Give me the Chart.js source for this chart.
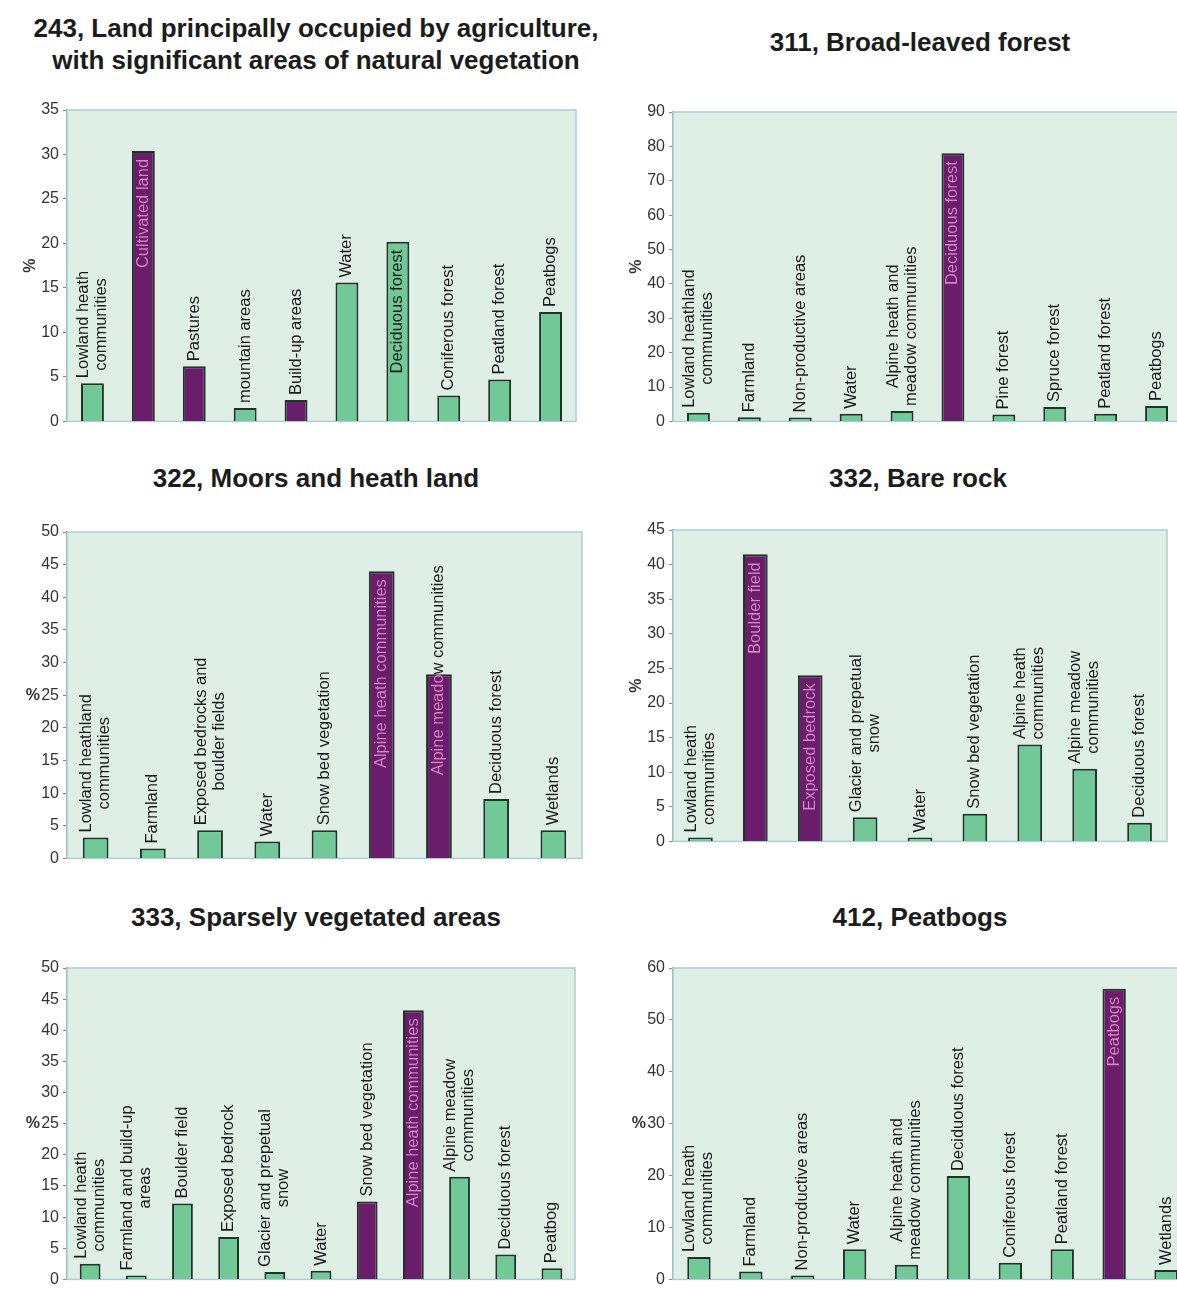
<!DOCTYPE html>
<html>
<head>
<meta charset="utf-8">
<script src="https://cdn.jsdelivr.net/npm/chart.js@4.4.1/dist/chart.umd.min.js"></script>
<style>
  html, body { margin: 0; padding: 0; background: #ffffff; overflow: hidden; }
  body { width: 1177px; height: 1293px; position: relative; font-family: "Liberation Sans", Arial, sans-serif; }
  .ttl { position: absolute; font-weight: bold; font-size: 26px; line-height: 32px; color: #1c1c1c; text-align: center; white-space: nowrap; }
  canvas { position: absolute; }
</style>
</head>
<body>
<div class="ttl" style="left:0;width:632px;top:12px;">243, Land principally occupied by agriculture,<br>with significant areas of natural vegetation</div>
<div class="ttl" style="left:620px;width:600px;top:26px;">311, Broad-leaved forest</div>
<div class="ttl" style="left:0;width:632px;top:462px;">322, Moors and heath land</div>
<div class="ttl" style="left:620px;width:596px;top:462px;">332, Bare rock</div>
<div class="ttl" style="left:0;width:632px;top:901px;">333, Sparsely vegetated areas</div>
<div class="ttl" style="left:620px;width:600px;top:901px;">412, Peatbogs</div>

<canvas id="c1"></canvas>
<canvas id="c2"></canvas>
<canvas id="c3"></canvas>
<canvas id="c4"></canvas>
<canvas id="c5"></canvas>
<canvas id="c6"></canvas>

<script>
// ---------- DATA ----------
// 243, Land principally occupied by agriculture, with significant areas of natural vegetation
const categories243 = [["Lowland heath", "communities"], "Cultivated land", "Pastures", "mountain areas", "Build-up areas", "Water", "Deciduous forest", "Coniferous forest", "Peatland forest", "Peatbogs"];
const values243 = [4.3, 30.4, 6.2, 1.5, 2.4, 15.6, 20.2, 2.9, 4.7, 12.3];
const purple243 = [0, 1, 1, 0, 1, 0, 0, 0, 0, 0];
const ticks243 = [0, 5, 10, 15, 20, 25, 30, 35];

// 311, Broad-leaved forest
const categories311 = [["Lowland heathland", "communities"], "Farmland", "Non-productive areas", "Water", ["Alpine heath and", "meadow communities"], "Deciduous forest", "Pine forest", "Spruce forest", "Peatland forest", "Peatbogs"];
const values311 = [2.5, 1.2, 0.8, 2.2, 3.0, 78.0, 2.0, 4.2, 2.2, 4.5];
const purple311 = [0, 0, 0, 0, 0, 1, 0, 0, 0, 0];
const ticks311 = [0, 10, 20, 30, 40, 50, 60, 70, 80, 90];

// 322, Moors and heath land
const categories322 = [["Lowland heathland", "communities"], "Farmland", ["Exposed bedrocks and", "boulder fields"], "Water", "Snow bed vegetation", "Alpine heath communities", "Alpine meadow communities", "Deciduous forest", "Wetlands"];
const values322 = [3.2, 1.5, 4.3, 2.6, 4.3, 44.0, 28.2, 9.1, 4.3];
const purple322 = [0, 0, 0, 0, 0, 1, 1, 0, 0];
const ticks322 = [0, 5, 10, 15, 20, 25, 30, 35, 40, 45, 50];

// 332, Bare rock
const categories332 = [["Lowland heath", "communities"], "Boulder field", "Exposed bedrock", ["Glacier and prepetual", "snow"], "Water", "Snow bed vegetation", ["Alpine heath", "communities"], ["Alpine meadow", "communities"], "Deciduous forest"];
const values332 = [0.4, 41.5, 24.0, 3.5, 0.4, 4.0, 14.0, 10.5, 2.7];
const purple332 = [0, 1, 1, 0, 0, 0, 0, 0, 0];
const ticks332 = [0, 5, 10, 15, 20, 25, 30, 35, 40, 45];

// 333, Sparsely vegetated areas
const categories333 = [["Lowland heath", "communities"], ["Farmland and build-up", "areas"], "Boulder field", "Exposed bedrock", ["Glacier and prepetual", "snow"], "Water", "Snow bed vegetation", "Alpine heath communities", ["Alpine meadow", "communities"], "Deciduous forest", "Peatbog"];
const values333 = [2.5, 0.5, 12.2, 6.8, 1.2, 1.4, 12.5, 43.2, 16.5, 4.0, 1.8];
const purple333 = [0, 0, 0, 0, 0, 0, 1, 1, 0, 0, 0];
const ticks333 = [0, 5, 10, 15, 20, 25, 30, 35, 40, 45, 50];

// 412, Peatbogs
const categories412 = [["Lowland heath", "communities"], "Farmland", "Non-productive areas", "Water", ["Alpine heath and", "meadow communities"], "Deciduous forest", "Coniferous forest", "Peatland forest", "Peatbogs", "Wetlands"];
const values412 = [4.3, 1.5, 0.6, 5.8, 2.8, 19.9, 3.2, 5.8, 56.0, 1.8];
const purple412 = [0, 0, 0, 0, 0, 0, 0, 0, 1, 0];
const ticks412 = [0, 10, 20, 30, 40, 50, 60];

// ---------- STYLE ----------
const GREEN = '#72c998';
const PURPLE = '#6a1d6b';
const EDGE = '#1f3327';
const PLOT_BG = '#e0efe6';
const PLOT_BORDER = '#a9d0d6';
const PINK = '#e57fd3';
const TEXT = '#1a1a1a';
const FONT = '"Liberation Sans", Arial, sans-serif';
const LABEL_SIZE = 16.5;

const plotPlugin = {
  id: 'plotPlugin',
  beforeDatasetsDraw(chart) {
    const a = chart.chartArea, ctx = chart.ctx;
    ctx.save();
    ctx.fillStyle = PLOT_BG;
    ctx.fillRect(a.left, a.top, a.right - a.left, a.bottom - a.top);
    ctx.strokeStyle = PLOT_BORDER;
    ctx.lineWidth = 1.5;
    ctx.strokeRect(a.left, a.top, a.right - a.left, a.bottom - a.top);
    ctx.restore();
  },
  afterDatasetsDraw(chart) {
    const cfg = chart.options.plugins.plotPlugin;
    const ctx = chart.ctx, a = chart.chartArea;
    const meta = chart.getDatasetMeta(0);
    const labels = chart.data.labels;
    const lh = LABEL_SIZE + 1.5;
    ctx.save();
    ctx.font = LABEL_SIZE + 'px ' + FONT;
    meta.data.forEach((bar, i) => {
      const lines = Array.isArray(labels[i]) ? labels[i] : [labels[i]];
      const maxW = Math.max(...lines.map(l => ctx.measureText(l).width));
      const top = bar.y, base = bar.base, h = base - top;
      const inside = cfg.inside.includes(i);
      const isPurple = chart.data.datasets[0].backgroundColor[i] === PURPLE;
      let startY;
      if (inside) {
        if (maxW + 16 > h) startY = base - 0.45 * h;
        else startY = top + 8 + maxW;
      } else {
        startY = top - 5;
      }
      const drawText = (color) => {
        ctx.save();
        ctx.translate(bar.x, startY);
        ctx.rotate(-Math.PI / 2);
        ctx.fillStyle = color;
        ctx.textAlign = 'center';
        ctx.textBaseline = 'middle';
        lines.forEach((ln, k) => {
          const off = (k - (lines.length - 1) / 2) * lh;
          ctx.fillText(ln, maxW / 2, off);
        });
        ctx.restore();
      };
      if (inside && isPurple) {
        drawText(TEXT);
        ctx.save();
        ctx.beginPath();
        ctx.rect(bar.x - bar.width / 2, top, bar.width, h);
        ctx.clip();
        drawText(PINK);
        ctx.restore();
      } else {
        drawText(TEXT);
      }
    });
    // y axis title "%"
    ctx.fillStyle = '#333';
    ctx.font = 'bold 16px ' + FONT;
    const midY = (a.top + a.bottom) / 2;
    if (cfg.rotTitle) {
      ctx.save();
      ctx.translate(a.left - 36, midY);
      ctx.rotate(-Math.PI / 2);
      ctx.textAlign = 'center';
      ctx.textBaseline = 'middle';
      ctx.fillText('%', 0, 0);
      ctx.restore();
    } else {
      ctx.textAlign = 'right';
      ctx.textBaseline = 'middle';
      ctx.fillText('%', a.left - 27, midY);
    }
    ctx.restore();
  }
};

function makeChart(id, box, cats, vals, purple, ticks, inside, rotTitle) {
  const cv = document.getElementById(id);
  cv.width = box.w; cv.height = box.h;
  cv.style.left = box.x + 'px'; cv.style.top = box.y + 'px';
  cv.style.width = box.w + 'px'; cv.style.height = box.h + 'px';
  const maxV = ticks[ticks.length - 1];
  const step = ticks[1] - ticks[0];
  return new Chart(cv, {
    type: 'bar',
    data: {
      labels: cats,
      datasets: [{
        data: vals,
        backgroundColor: purple.map(p => p ? PURPLE : GREEN),
        borderColor: EDGE,
        borderWidth: 2,
        minBarLength: 4,
        barPercentage: 0.45,
        categoryPercentage: 1.0
      }]
    },
    options: {
      responsive: false,
      animation: false,
      layout: { padding: { top: box.pt, bottom: box.pb, right: box.pr, left: 0 } },
      plugins: {
        legend: { display: false },
        tooltip: { enabled: false },
        title: { display: false },
        plotPlugin: { inside: inside, rotTitle: rotTitle }
      },
      scales: {
        x: { display: false },
        y: {
          min: 0, max: maxV,
          afterFit(scale) { scale.width = box.yw; },
          afterBuildTicks(scale) { scale.ticks = ticks.map(v => ({ value: v })); },
          ticks: { stepSize: step, color: '#333', font: { family: FONT, size: 16 }, padding: 4 },
          grid: { display: true, drawOnChartArea: false, drawTicks: true, tickLength: 4, color: '#8a8a8a' },
          border: { display: true, color: '#8a8a8a', width: 1.5 }
        }
      }
    },
    plugins: [plotPlugin]
  });
}

makeChart('c1', { x: 0, y: 90, w: 595, h: 345, yw: 67, pt: 20, pb: 10, pr: 19 }, categories243, values243, purple243, ticks243, [1, 6], true);
makeChart('c2', { x: 590, y: 90, w: 600, h: 345, yw: 83, pt: 22, pb: 10, pr: 8 }, categories311, values311, purple311, ticks311, [5], true);
makeChart('c3', { x: 0, y: 510, w: 595, h: 362, yw: 67, pt: 22, pb: 10, pr: 13 }, categories322, values322, purple322, ticks322, [5, 6], false);
makeChart('c4', { x: 590, y: 510, w: 590, h: 345, yw: 83, pt: 20, pb: 10, pr: 13 }, categories332, values332, purple332, ticks332, [1, 2], true);
makeChart('c5', { x: 0, y: 950, w: 595, h: 343, yw: 67, pt: 18, pb: 6, pr: 20 }, categories333, values333, purple333, ticks333, [7], false);
makeChart('c6', { x: 590, y: 950, w: 610, h: 343, yw: 83, pt: 18, pb: 13, pr: 8 }, categories412, values412, purple412, ticks412, [8], false);
</script>
</body>
</html>
